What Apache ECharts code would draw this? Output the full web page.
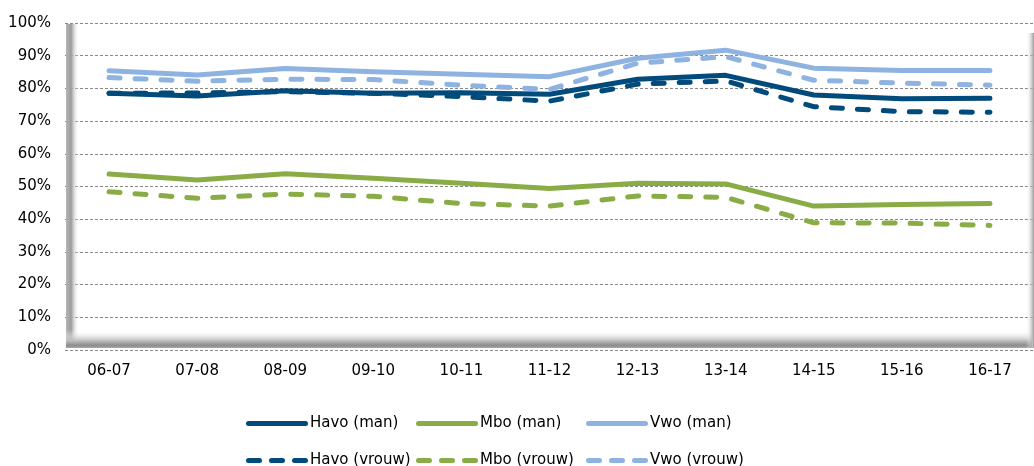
<!DOCTYPE html>
<html>
<head>
<meta charset="utf-8">
<script src="https://cdn.jsdelivr.net/npm/echarts@6/dist/echarts.min.js"></script>
<style>
  html, body { margin: 0; padding: 0; background: #fff; }
  #chart { width: 1034px; height: 466px; }
</style>
</head>
<body>
<div id="chart"></div>
<script>
// schooljaren
const categories = ['06-07', '07-08', '08-09', '09-10', '10-11', '11-12', '12-13', '13-14', '14-15', '15-16', '16-17']
const yTicks = [0, 10, 20, 30, 40, 50, 60, 70, 80, 90, 100]

// percentages per serie
const havoMan = [78.5, 77.7, 79.3, 78.5, 78.7, 78.2, 82.8, 84.0, 78.0, 76.8, 77.0]
const mboMan = [53.8, 52.0, 53.9, 52.5, 51.0, 49.4, 51.0, 50.8, 44.0, 44.5, 44.8]
const vwoMan = [85.4, 84.1, 86.1, 85.1, 84.3, 83.6, 89.2, 91.7, 86.2, 85.5, 85.5]
const havoVrouw = [78.5, 78.6, 79.0, 78.5, 77.5, 76.1, 81.3, 82.3, 74.4, 72.9, 72.7]
const mboVrouw = [48.4, 46.4, 47.7, 47.0, 44.8, 44.0, 47.1, 46.7, 38.9, 38.8, 38.1]
const vwoVrouw = [83.3, 82.2, 82.8, 82.7, 81.0, 79.7, 87.7, 89.7, 82.5, 81.6, 81.0]

const names = ['Havo (man)', 'Mbo (man)', 'Vwo (man)', 'Havo (vrouw)', 'Mbo (vrouw)', 'Vwo (vrouw)']
const seriesData = [havoMan, mboMan, vwoMan, havoVrouw, mboVrouw, vwoVrouw]
const colors = ['#004a7c', '#8aac46', '#8fb3e0', '#004a7c', '#8aac46', '#8fb3e0']

const font = 'Tahoma, "DejaVu Sans", sans-serif'
const chart = echarts.init(document.getElementById('chart'))

// legenda-iconen: doorgetrokken lijn en drie streepjes met ronde uiteinden
const pill = (x, w) => 'M' + (x + 2.5) + ',0 H' + (x + w - 2.5) + ' A2.5,2.5 0 0 1 ' + (x + w - 2.5) + ',5 H' + (x + 2.5) + ' A2.5,2.5 0 0 1 ' + (x + 2.5) + ',0 Z'
const solidIcon = 'path://' + pill(0, 62)
const dashIcon = 'path://' + pill(0, 16) + ' ' + pill(23, 16) + ' ' + pill(46, 16)

const series = names.map((name, i) => ({
  name: name,
  type: 'line',
  data: seriesData[i],
  symbol: 'none',
  z: i < 3 ? 2 : 3,
  lineStyle: {
    color: colors[i],
    width: 5,
    cap: 'round',
    join: 'round',
    type: i < 3 ? 'solid' : [11, 15]
  },
  itemStyle: { color: colors[i] }
}))

// zes losse legenda's zodat de kolommen netjes onder elkaar staan
const legendPos = [[241, 411], [411, 411], [581, 411], [241, 448], [411, 448], [581, 448]]
const legends = names.map((name, i) => ({
  data: [{ name: name, icon: i < 3 ? solidIcon : dashIcon }],
  left: legendPos[i][0],
  top: legendPos[i][1],
  itemWidth: 62,
  itemHeight: 5,
  symbolKeepAspect: false,
  selectedMode: false,
  textStyle: { fontFamily: font, fontSize: 15, color: '#000', padding: [0, 0, 0, -3] }
}))

const option = {
  animation: false,
  backgroundColor: '#fff',
  grid: {
    left: 65,
    top: 23,
    width: 980,
    height: 327,
    show: true,
    backgroundColor: '#fff',
    borderWidth: 0
  },
  // 3D-rand rond het plotvlak
  graphic: [
    {
      type: 'rect',
      z: 1,
      silent: true,
      shape: { x: 66, y: 24, width: 13, height: 324 },
      style: {
        fill: new echarts.graphic.LinearGradient(0, 0, 1, 0, [
          { offset: 0, color: '#b4b4b4' },
          { offset: 0.4, color: '#9c9c9c' },
          { offset: 1, color: 'rgba(255,255,255,0)' }
        ])
      }
    },
    {
      type: 'rect',
      z: 1,
      silent: true,
      shape: { x: 66, y: 330, width: 966, height: 18 },
      style: {
        fill: new echarts.graphic.LinearGradient(0, 0, 0, 1, [
          { offset: 0, color: 'rgba(255,255,255,0)' },
          { offset: 0.6, color: '#bdbdbd' },
          { offset: 0.85, color: '#8c8c8c' },
          { offset: 1, color: '#a8a8a8' }
        ])
      }
    },
    {
      type: 'rect',
      z: 1,
      silent: true,
      shape: { x: 1026, y: 33, width: 8, height: 315 },
      style: {
        fill: new echarts.graphic.LinearGradient(0, 0, 1, 0, [
          { offset: 0, color: 'rgba(255,255,255,0)' },
          { offset: 1, color: '#9a9a9a' }
        ])
      }
    }
  ],
  legend: legends,
  xAxis: {
    type: 'category',
    data: categories,
    boundaryGap: true,
    axisLine: { show: false },
    axisTick: { show: false },
    axisLabel: { fontFamily: font, fontSize: 15, color: '#000', margin: 14 }
  },
  yAxis: {
    type: 'value',
    min: yTicks[0],
    max: yTicks[yTicks.length - 1],
    interval: 10,
    axisLine: { show: false },
    axisTick: { show: false },
    axisLabel: { fontFamily: font, fontSize: 15, color: '#000', margin: 14, formatter: '{value}%' },
    splitLine: { lineStyle: { color: '#888', type: [3, 2], width: 1 } }
  },
  series: series
}

chart.setOption(option)
</script>
</body>
</html>
